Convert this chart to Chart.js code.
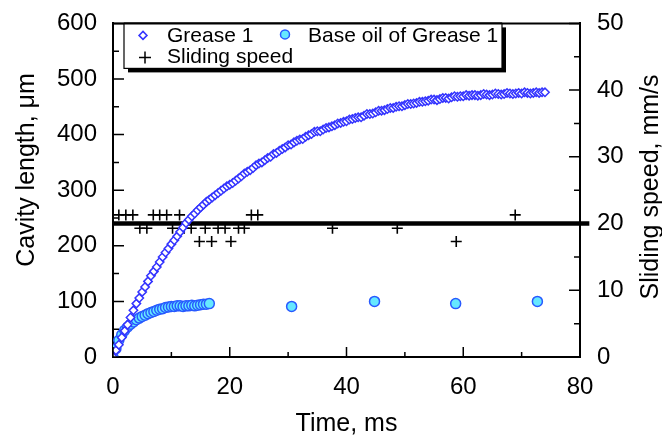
<!DOCTYPE html>
<html>
<head>
<meta charset="utf-8">
<script src="https://cdn.jsdelivr.net/npm/chart.js@4/dist/chart.umd.min.js"></script>
<style>
  html, body { margin: 0; padding: 0; background: #fff; }
  #wrap { width: 662px; height: 439px; }
</style>
</head>
<body>
<div id="wrap"><canvas id="myChart" width="662" height="439"></canvas></div>
<script>
// Cavity length of Grease 1 (um), sampled every 0.5 ms
const grease1Time = [
  0, 0.5, 1, 1.5, 2, 2.5, 3, 3.5, 4, 4.5, 5, 5.5, 6, 6.5, 7, 7.5, 8, 8.5, 9, 9.5,
  10, 10.5, 11, 11.5, 12, 12.5, 13, 13.5, 14, 14.5, 15, 15.5, 16, 16.5, 17, 17.5, 18, 18.5, 19, 19.5,
  20, 20.5, 21, 21.5, 22, 22.5, 23, 23.5, 24, 24.5, 25, 25.5, 26, 26.5, 27, 27.5, 28, 28.5, 29, 29.5,
  30, 30.5, 31, 31.5, 32, 32.5, 33, 33.5, 34, 34.5, 35, 35.5, 36, 36.5, 37, 37.5, 38, 38.5, 39, 39.5,
  40, 40.5, 41, 41.5, 42, 42.5, 43, 43.5, 44, 44.5, 45, 45.5, 46, 46.5, 47, 47.5, 48, 48.5, 49, 49.5,
  50, 50.5, 51, 51.5, 52, 52.5, 53, 53.5, 54, 54.5, 55, 55.5, 56, 56.5, 57, 57.5, 58, 58.5, 59, 59.5,
  60, 60.5, 61, 61.5, 62, 62.5, 63, 63.5, 64, 64.5, 65, 65.5, 66, 66.5, 67, 67.5, 68, 68.5, 69, 69.5,
  70, 70.5, 71, 71.5, 72, 72.5, 73, 73.5, 74
];
const grease1Length = [
  0, 12, 22, 35, 47, 58, 71, 84, 96, 106, 117, 126, 136, 146, 154, 162, 171, 180, 188, 195,
  203, 210, 217, 225, 233, 241, 247, 253, 258, 264, 269, 274, 279, 283, 287, 291, 295, 299, 303, 307,
  310, 313, 317, 321, 325, 330, 333, 336, 340, 345, 348, 350, 354, 358, 360, 365, 367, 371, 374, 377,
  381, 382, 386, 389, 391, 392, 396, 399, 401, 405, 406, 406, 409, 412, 413, 415, 417, 420, 421, 423,
  424, 427, 428, 430, 431, 431, 434, 437, 437, 438, 440, 443, 443, 444, 446, 448, 448, 450, 451, 451,
  453, 455, 455, 456, 457, 459, 459, 460, 461, 463, 463, 462, 464, 466, 466, 465, 467, 469, 468, 469,
  469, 471, 470, 471, 471, 470, 471, 473, 472, 471, 472, 474, 473, 472, 473, 475, 474, 473, 474, 475,
  474, 476, 475, 474, 475, 476, 475, 476, 476
];

// Cavity length of the base oil (um)
const baseOilTime = [
  0, 0.5, 1, 1.5, 2, 2.5, 3, 3.5, 4, 4.5, 5, 5.5, 6, 6.5, 7, 7.5, 8, 8.5,
  9, 9.5, 10, 10.5, 11, 11.5, 12, 12.5, 13, 13.5, 14, 14.5, 15, 15.5, 16, 16.5,
  30.6, 44.8, 58.7, 72.7
];
const baseOilLength = [
  0, 15, 30, 40, 48, 54, 59, 63, 67, 70, 73, 75, 78, 80, 82, 84, 86, 87,
  89, 90, 91, 91, 92, 92, 91, 92, 92, 93, 92, 93, 94, 95, 95, 96,
  91, 100, 96, 100
];

// Sliding speed (mm/s)
const speedTime = [
  1.0, 2.2, 3.4, 4.6, 5.8, 6.9, 8.0, 9.2, 10.2, 11.4, 12.2, 13.4, 14.8,
  15.8, 16.9, 18.0, 19.2, 20.2, 21.5, 22.5, 23.7, 24.8, 37.6, 48.7, 58.8, 68.9
];
const speedValue = [
  21.3, 21.3, 21.3, 19.3, 19.3, 21.3, 21.3, 21.3, 19.3, 21.3, 19.3, 19.3, 17.3,
  19.3, 17.3, 19.3, 19.3, 17.3, 19.3, 19.3, 21.3, 21.3, 19.3, 19.3, 17.3, 21.3
];

// Set sliding speed line
const setSpeedTime = [0, 81.6];
const setSpeedValue = [20, 20];

const xTicks = [0, 20, 40, 60, 80];
const lengthTicks = [0, 100, 200, 300, 400, 500, 600];
const speedTicks = [0, 10, 20, 30, 40, 50];

const FONT = "'Liberation Sans', Arial, sans-serif";
const DIAMOND_BLUE = 'rgb(52,52,255)';
const CIRCLE_FILL = 'rgb(102,232,255)';
const CIRCLE_EDGE = 'rgb(40,90,255)';

function toPoints(xs, ys) {
    return xs.map((x, i) => ({ x: x, y: ys[i] }));
}

function sideTitle(ctx, text, x, y) {
    ctx.save();
    ctx.translate(x, y);
    ctx.rotate(-Math.PI / 2);
    ctx.fillStyle = '#000';
    ctx.font = '25px ' + FONT;
    ctx.textAlign = 'center';
    ctx.textBaseline = 'middle';
    ctx.fillText(text, 0, 0);
    ctx.restore();
}

// inner tick marks, top frame line, side titles and the boxed legend
const framePlugin = {
    id: 'frame',
    afterDraw(chart) {
        const ctx = chart.ctx;
        const { left, right, top, bottom } = chart.chartArea;
        const sx = chart.scales.x, sy = chart.scales.y, sy2 = chart.scales.y2;

        ctx.save();
        ctx.strokeStyle = '#000';
        ctx.lineWidth = 1.5;
        ctx.beginPath();
        for (let i = 0; i < xTicks.length; i++) {
            const p = sx.getPixelForValue(xTicks[i]);
            ctx.moveTo(p, bottom); ctx.lineTo(p, bottom - 10);
            if (i < xTicks.length - 1) {
                const m = sx.getPixelForValue((xTicks[i] + xTicks[i + 1]) / 2);
                ctx.moveTo(m, bottom); ctx.lineTo(m, bottom - 5);
            }
        }
        for (let i = 0; i < lengthTicks.length; i++) {
            const p = sy.getPixelForValue(lengthTicks[i]);
            ctx.moveTo(left, p); ctx.lineTo(left + 11, p);
            if (i < lengthTicks.length - 1) {
                const m = sy.getPixelForValue((lengthTicks[i] + lengthTicks[i + 1]) / 2);
                ctx.moveTo(left, m); ctx.lineTo(left + 6, m);
            }
        }
        for (let i = 0; i < speedTicks.length; i++) {
            const p = sy2.getPixelForValue(speedTicks[i]);
            ctx.moveTo(right, p); ctx.lineTo(right - 11, p);
            if (i < speedTicks.length - 1) {
                const m = sy2.getPixelForValue((speedTicks[i] + speedTicks[i + 1]) / 2);
                ctx.moveTo(right, m); ctx.lineTo(right - 6, m);
            }
        }
        ctx.stroke();

        // top frame
        ctx.lineWidth = 2;
        ctx.beginPath();
        ctx.moveTo(left - 1, top); ctx.lineTo(right + 1, top);
        ctx.stroke();

        // both side titles read bottom-to-top
        sideTitle(ctx, 'Cavity length, μm', 27, 170);
        sideTitle(ctx, 'Sliding speed, mm/s', 651, 187);

        // legend box with shadow
        const bx = left + 11, by = top, bw = 378, bh = 45;
        ctx.fillStyle = '#000';
        ctx.fillRect(bx + 4, by + 4, bw, bh);
        ctx.fillStyle = '#fff';
        ctx.fillRect(bx, by, bw, bh);
        ctx.lineWidth = 1.2;
        ctx.strokeRect(bx, by, bw, bh);
        ctx.beginPath();
        ctx.lineWidth = 2;
        ctx.moveTo(bx, by); ctx.lineTo(bx + bw, by);
        ctx.stroke();

        // diamond
        ctx.lineWidth = 1.5;
        ctx.strokeStyle = DIAMOND_BLUE;
        ctx.fillStyle = '#fff';
        const dx = bx + 19, dy = by + 12;
        ctx.beginPath();
        ctx.moveTo(dx, dy - 4); ctx.lineTo(dx + 4, dy); ctx.lineTo(dx, dy + 4); ctx.lineTo(dx - 4, dy);
        ctx.closePath();
        ctx.fill(); ctx.stroke();

        // circle
        ctx.strokeStyle = CIRCLE_EDGE;
        ctx.fillStyle = CIRCLE_FILL;
        ctx.beginPath();
        ctx.arc(bx + 161, by + 11, 4.5, 0, Math.PI * 2);
        ctx.fill(); ctx.stroke();

        // plus
        ctx.strokeStyle = '#000';
        ctx.lineWidth = 1.5;
        ctx.beginPath();
        ctx.moveTo(bx + 15, by + 34); ctx.lineTo(bx + 27, by + 34);
        ctx.moveTo(bx + 21, by + 28); ctx.lineTo(bx + 21, by + 40);
        ctx.stroke();

        ctx.fillStyle = '#000';
        ctx.font = '21px ' + FONT;
        ctx.textBaseline = 'middle';
        ctx.textAlign = 'left';
        ctx.fillText('Grease 1', bx + 43, by + 13);
        ctx.fillText('Base oil of Grease 1', bx + 184, by + 13);
        ctx.fillText('Sliding speed', bx + 43, by + 34);
        ctx.restore();
    }
};

const ctx = document.getElementById('myChart').getContext('2d');
new Chart(ctx, {
    type: 'scatter',
    data: {
        datasets: [
            {
                label: 'Grease 1',
                data: toPoints(grease1Time, grease1Length),
                yAxisID: 'y',
                pointStyle: 'rectRot',
                pointRadius: 4.2,
                borderWidth: 1.5,
                borderColor: DIAMOND_BLUE,
                backgroundColor: '#fff'
            },
            {
                label: 'Base oil of Grease 1',
                data: toPoints(baseOilTime, baseOilLength),
                yAxisID: 'y',
                pointStyle: 'circle',
                pointRadius: 5,
                borderWidth: 1.5,
                borderColor: CIRCLE_EDGE,
                backgroundColor: CIRCLE_FILL
            },
            {
                label: 'Sliding speed',
                data: toPoints(speedTime, speedValue),
                yAxisID: 'y2',
                pointStyle: 'cross',
                pointRadius: 5.5,
                borderWidth: 1.6,
                borderColor: '#000',
                backgroundColor: '#000'
            },
            {
                label: 'Set speed',
                type: 'line',
                data: toPoints(setSpeedTime, setSpeedValue),
                yAxisID: 'y2',
                showLine: true,
                pointRadius: 0,
                borderWidth: 4.5,
                borderColor: '#000',
                clip: false
            }
        ]
    },
    options: {
        responsive: false,
        animation: false,
        events: [],
        layout: { padding: { top: 17, left: 0, right: 0, bottom: 0 } },
        plugins: {
            legend: { display: false },
            tooltip: { enabled: false }
        },
        scales: {
            x: {
                type: 'linear',
                min: 0,
                max: 80,
                afterFit: s => { s.height = 82; },
                grid: { display: false },
                border: { display: true, color: '#000', width: 2 },
                ticks: { stepSize: 20, color: '#000', padding: 8, maxRotation: 0, font: { family: FONT, size: 24 } },
                title: { display: true, text: 'Time, ms', color: '#000', padding: { top: 0, bottom: 2 }, font: { family: FONT, size: 25, lineHeight: 1 } }
            },
            y: {
                type: 'linear',
                position: 'left',
                min: 0,
                max: 600,
                afterFit: s => { s.width = 113; },
                grid: { display: false },
                border: { display: true, color: '#000', width: 2 },
                ticks: { stepSize: 100, color: '#000', padding: 8, font: { family: FONT, size: 24 } },
                title: { display: false, text: 'Cavity length, μm' }
            },
            y2: {
                type: 'linear',
                position: 'right',
                min: 0,
                max: 50,
                afterFit: s => { s.width = 82; },
                grid: { display: false },
                border: { display: true, color: '#000', width: 2 },
                ticks: { stepSize: 10, color: '#000', padding: 9, font: { family: FONT, size: 24 } },
                title: { display: false, text: 'Sliding speed, mm/s' }
            }
        }
    },
    plugins: [framePlugin]
});
</script>
</body>
</html>
